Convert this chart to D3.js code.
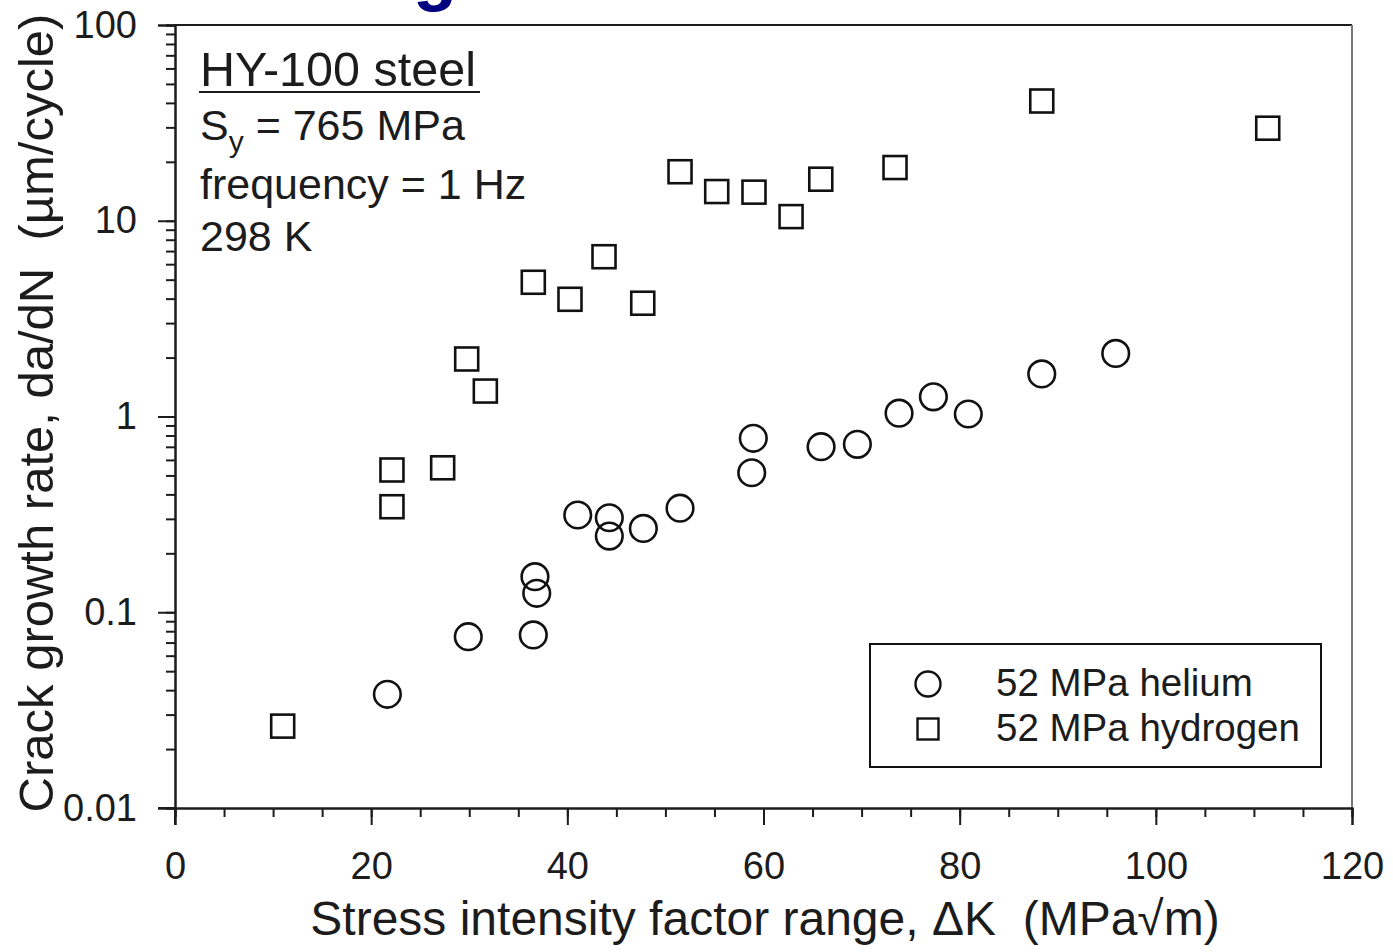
<!DOCTYPE html>
<html>
<head>
<meta charset="utf-8">
<script src="https://cdn.jsdelivr.net/npm/d3@7"></script>
<style>
  html, body { margin: 0; padding: 0; background: #fff; }
  svg { display: block; font-family: "Liberation Sans", Arial, sans-serif; }
</style>
</head>
<body>
<svg id="chart" width="1393" height="952"></svg>
<script>
// ---- data ----
const heliumK    = [21.65, 29.9, 36.53, 36.7, 36.88, 41.06, 44.28, 44.28, 47.75, 51.49, 58.8, 58.96, 65.87, 69.57, 73.82, 77.32, 80.88, 88.37, 95.91];
const heliumRate = [0.0381, 0.075, 0.0766, 0.152, 0.125, 0.314, 0.304, 0.245, 0.268, 0.34, 0.516, 0.774, 0.701, 0.721, 1.04, 1.26, 1.03, 1.65, 2.10];
const hydrogenK    = [10.98, 22.12, 22.12, 27.29, 29.74, 31.64, 36.53, 40.27, 43.74, 47.69, 51.49, 55.23, 59.03, 62.81, 65.84, 73.41, 88.37, 111.41];
const hydrogenRate = [0.0262, 0.533, 0.346, 0.547, 1.967, 1.349, 4.85, 3.97, 6.55, 3.79, 17.8, 14.1, 14.0, 10.5, 16.3, 18.7, 40.9, 29.7];
const seriesNames = ["52 MPa helium", "52 MPa hydrogen"];
const xTickValues = [0, 20, 40, 60, 80, 100, 120];
const xTickLabels = ["0", "20", "40", "60", "80", "100", "120"];
const yTickValues = [0.01, 0.1, 1, 10, 100];
const yTickLabels = ["0.01", "0.1", "1", "10", "100"];
const notes = ["HY-100 steel", "frequency = 1 Hz", "298 K"];

const svg = d3.select("#chart");
const ink = "#1c1c1c";

const x = d3.scaleLinear().domain([0, 120]).range([175, 1352]);
const y = d3.scaleLog().domain([0.01, 100]).range([808, 25]);

// cut-off slide title glyph at the top (only its descender is visible in the reference)
svg.append("text").attr("x", 413).attr("y", -3)
  .attr("font-size", 72).attr("font-weight", "bold").attr("fill", "#000080").text("g");

// frame: top and right
svg.append("line").attr("x1", x(0)).attr("x2", x(120)).attr("y1", y(100)).attr("y2", y(100))
  .attr("stroke", ink).attr("stroke-width", 2);
svg.append("line").attr("x1", x(120)).attr("x2", x(120)).attr("y1", y(100)).attr("y2", y(0.01))
  .attr("stroke", "#777").attr("stroke-width", 2);

// x axis
const xAxisMinor = d3.axisBottom(x).tickValues(d3.range(0, 121, 5)).tickSize(9).tickFormat("");
const xAxis = d3.axisBottom(x).tickValues(xTickValues).tickSize(17).tickPadding(27)
  .tickFormat((d, i) => xTickLabels[i]);
const gxm = svg.append("g").attr("transform", `translate(0,${y(0.01)})`).call(xAxisMinor);
const gx = svg.append("g").attr("transform", `translate(0,${y(0.01)})`).call(xAxis);
[gx, gxm].forEach(g => {
  g.select(".domain").attr("stroke", ink).attr("stroke-width", 2);
  g.selectAll(".tick line").attr("stroke", ink).attr("stroke-width", 2);
});
gx.selectAll("text").attr("font-size", 38).attr("fill", ink).attr("font-family", "Liberation Sans, Arial, sans-serif");

// y axis
const yAxisMinor = d3.axisLeft(y).tickValues(y.ticks()).tickSize(9).tickFormat("");
const yAxis = d3.axisLeft(y).tickValues(yTickValues).tickSize(17).tickPadding(21)
  .tickFormat((d, i) => yTickLabels[i]);
const gym = svg.append("g").attr("transform", `translate(${x(0)},0)`).call(yAxisMinor);
const gy = svg.append("g").attr("transform", `translate(${x(0)},0)`).call(yAxis);
[gy, gym].forEach(g => {
  g.select(".domain").attr("stroke", ink).attr("stroke-width", 2);
  g.selectAll(".tick line").attr("stroke", ink).attr("stroke-width", 2);
});
gy.selectAll("text").attr("font-size", 38).attr("fill", ink).attr("font-family", "Liberation Sans, Arial, sans-serif");
// extend axes across the origin like the reference
svg.append("line").attr("x1", x(0)).attr("x2", x(0)).attr("y1", y(0.01)).attr("y2", y(0.01) + 17)
  .attr("stroke", ink).attr("stroke-width", 2);
svg.append("line").attr("x1", x(0) - 17).attr("x2", x(0)).attr("y1", y(0.01)).attr("y2", y(0.01))
  .attr("stroke", ink).attr("stroke-width", 2);

// axis titles
svg.append("text").attr("x", 765).attr("y", 935).attr("text-anchor", "middle")
  .attr("font-size", 48).attr("fill", ink).style("white-space", "pre")
  .text("Stress intensity factor range, \u0394K  (MPa\u221Am)");
svg.append("text").attr("transform", "translate(53,413) rotate(-90)").attr("text-anchor", "middle")
  .attr("font-size", 49).attr("fill", ink).style("white-space", "pre")
  .text("Crack growth rate, da/dN  (\u00B5m/cycle)");

// annotation block
svg.append("text").attr("x", 200).attr("y", 86).attr("font-size", 48.5).attr("fill", ink).text(notes[0]);
svg.append("line").attr("x1", 199).attr("x2", 480).attr("y1", 92).attr("y2", 92)
  .attr("stroke", ink).attr("stroke-width", 2);
const sy = svg.append("text").attr("x", 200).attr("y", 140).attr("font-size", 43).attr("fill", ink);
sy.append("tspan").text("S");
sy.append("tspan").attr("font-size", 30).attr("dy", 12).text("y");
sy.append("tspan").attr("dy", -12).text(" = 765 MPa");
svg.append("text").attr("x", 200).attr("y", 199).attr("font-size", 43).attr("fill", ink).text(notes[1]);
svg.append("text").attr("x", 200).attr("y", 251).attr("font-size", 43).attr("fill", ink).text(notes[2]);

// markers
const helium = heliumK.map((k, i) => ({k, r: heliumRate[i]}));
const hydrogen = hydrogenK.map((k, i) => ({k, r: hydrogenRate[i]}));
const sq = 23;
svg.append("g").selectAll("rect").data(hydrogen).join("rect")
  .attr("x", d => x(d.k) - sq / 2).attr("y", d => y(d.r) - sq / 2)
  .attr("width", sq).attr("height", sq)
  .attr("fill", "none").attr("stroke", "#111").attr("stroke-width", 2.6);
svg.append("g").selectAll("circle").data(helium).join("circle")
  .attr("cx", d => x(d.k)).attr("cy", d => y(d.r)).attr("r", 13.3)
  .attr("fill", "none").attr("stroke", "#111").attr("stroke-width", 2.6);

// legend
const lg = svg.append("g");
lg.append("rect").attr("x", 870).attr("y", 644).attr("width", 451).attr("height", 123)
  .attr("fill", "#fff").attr("stroke", "#111").attr("stroke-width", 2);
lg.append("circle").attr("cx", 928).attr("cy", 684).attr("r", 12.5)
  .attr("fill", "none").attr("stroke", "#111").attr("stroke-width", 2.4);
lg.append("rect").attr("x", 928 - 10.5).attr("y", 729 - 10.5).attr("width", 21).attr("height", 21)
  .attr("fill", "none").attr("stroke", "#111").attr("stroke-width", 2.4);
lg.append("text").attr("x", 996).attr("y", 696).attr("font-size", 38.5).attr("fill", ink).text(seriesNames[0]);
lg.append("text").attr("x", 996).attr("y", 741).attr("font-size", 38.5).attr("fill", ink).text(seriesNames[1]);
</script>
</body>
</html>
